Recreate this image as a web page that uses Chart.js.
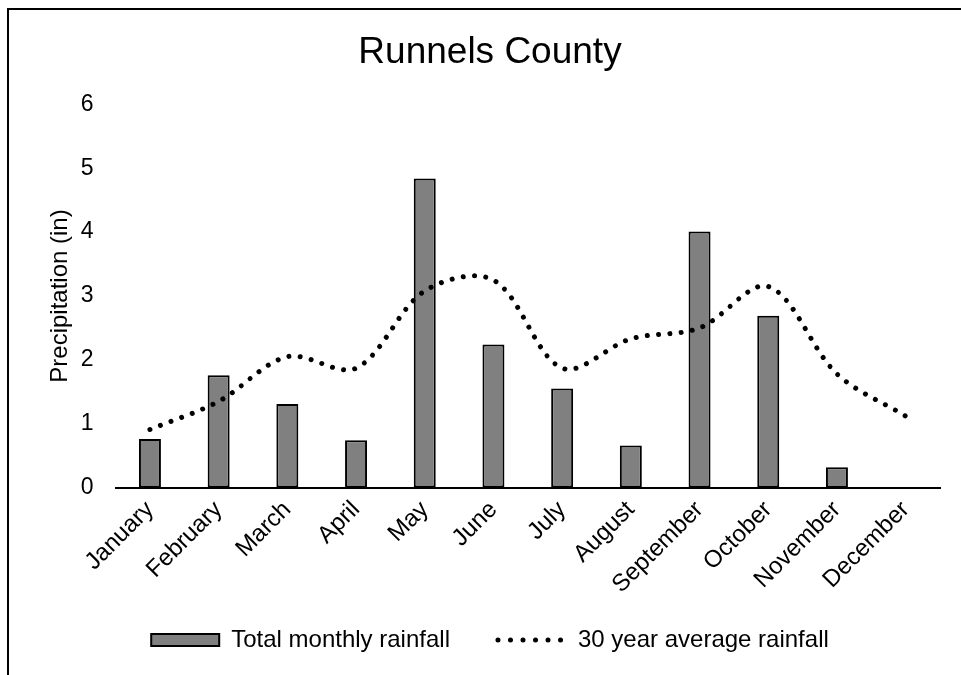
<!DOCTYPE html>
<html>
<head>
<meta charset="utf-8">
<title>Runnels County</title>
<script src="https://cdn.jsdelivr.net/npm/chart.js@4.4.0/dist/chart.umd.min.js"></script>
<style>
  html, body { margin: 0; padding: 0; background: #fff; }
  .frame {
    position: absolute;
    left: 7px;
    top: 8px;
    width: 1000px;
    height: 700px;
    border-left: 2px solid #000;
    border-top: 2px solid #000;
  }
  .chart {
    position: absolute;
    left: 0;
    top: 0;
    width: 961px;
    height: 675px;
  }
</style>
</head>
<body>
<div class="frame"></div>
<div class="chart">
  <canvas id="rainChart"></canvas>
</div>
<script>
// données (pouces)
const months = ['January', 'February', 'March', 'April', 'May', 'June',
  'July', 'August', 'September', 'October', 'November', 'December'];
const monthlyRainfall = [0.76, 1.76, 1.31, 0.74, 4.84, 2.24, 1.55, 0.66, 4.01, 2.69, 0.32, 0];
const averageRainfall = [0.91, 1.35, 2.05, 1.87, 3.08, 3.25, 1.87, 2.33, 2.5, 3.15, 1.78, 1.12];
const yTicks = [0, 1, 2, 3, 4, 5, 6];

const fontFamily = '"Liberation Sans", Arial, sans-serif';
Chart.defaults.font.family = fontFamily;
Chart.defaults.color = '#000';

// pointillés : tiret quasi nul + bouts ronds = un point
const dotDash = [0.01, 11.3];

const chart = new Chart(document.getElementById('rainChart'), {
  type: 'bar',
  data: {
    labels: months,
    datasets: [
      {
        label: 'Total monthly rainfall',
        data: monthlyRainfall,
        backgroundColor: '#808080',
        borderColor: '#000',
        borderWidth: 2,
        borderSkipped: false,
        pointStyle: 'rect',
        categoryPercentage: 1,
        barPercentage: 0.32,
        order: 2,
      },
      {
        type: 'line',
        label: '30 year average rainfall',
        data: averageRainfall,
        borderColor: '#000',
        backgroundColor: '#000',
        borderWidth: 5,
        borderDash: dotDash,
        borderCapStyle: 'round',
        tension: 0.33,
        pointRadius: 0,
        pointStyle: 'line',
        fill: false,
        order: 1,
      },
    ],
  },
  options: {
    responsive: true,
    maintainAspectRatio: false,
    animation: false,
    layout: {
      padding: { left: 40, right: 21, top: 10, bottom: 13 },
    },
    plugins: {
      title: {
        display: true,
        text: 'Runnels County',
        font: { size: 37, weight: 'normal' },
        padding: { top: 21, bottom: 29 },
      },
      legend: {
        position: 'bottom',
        labels: {
          font: { size: 24 },
          usePointStyle: true,
          pointStyleWidth: 68,
          boxHeight: 12,
          padding: 48,
          // ordre des séries + style pointillé pour la ligne
          generateLabels: (c) => {
            const items = Chart.defaults.plugins.legend.labels.generateLabels(c);
            items.sort((a, b) => a.datasetIndex - b.datasetIndex);
            items.forEach((item) => {
              if (c.data.datasets[item.datasetIndex].type === 'line') {
                item.lineDash = [0.01, 12.5];
                item.lineCap = 'round';
                item.lineWidth = 5;
                item.strokeStyle = '#000';
              }
            });
            return items;
          },
        },
      },
      tooltip: { enabled: false },
    },
    scales: {
      x: {
        grid: { display: false, drawTicks: false },
        border: { display: true, color: '#000', width: 2 },
        ticks: {
          font: { size: 24 },
          minRotation: 45,
          maxRotation: 45,
          padding: 8,
          autoSkip: false,
        },
        // on réduit la hauteur de l'axe pour laisser plus de place au graphique
        // (les étiquettes débordent sur la légende sans être coupées)
        afterFit: (axis) => {
          axis.height -= 27;
          axis._computeLabelArea = () => undefined;
        },
      },
      y: {
        min: 0,
        max: 6,
        grid: { display: false, drawTicks: false },
        border: { display: false },
        afterBuildTicks: (axis) => {
          axis.ticks = yTicks.map((v) => ({ value: v }));
        },
        // axe un peu plus étroit : graduations plus près du titre
        afterFit: (axis) => {
          axis.width -= 22;
        },
        ticks: {
          font: { size: 23 },
          padding: 22,
        },
        title: {
          display: true,
          text: 'Precipitation (in)',
          font: { size: 24 },
          padding: 6,
        },
      },
    },
  },
});
</script>
</body>
</html>
